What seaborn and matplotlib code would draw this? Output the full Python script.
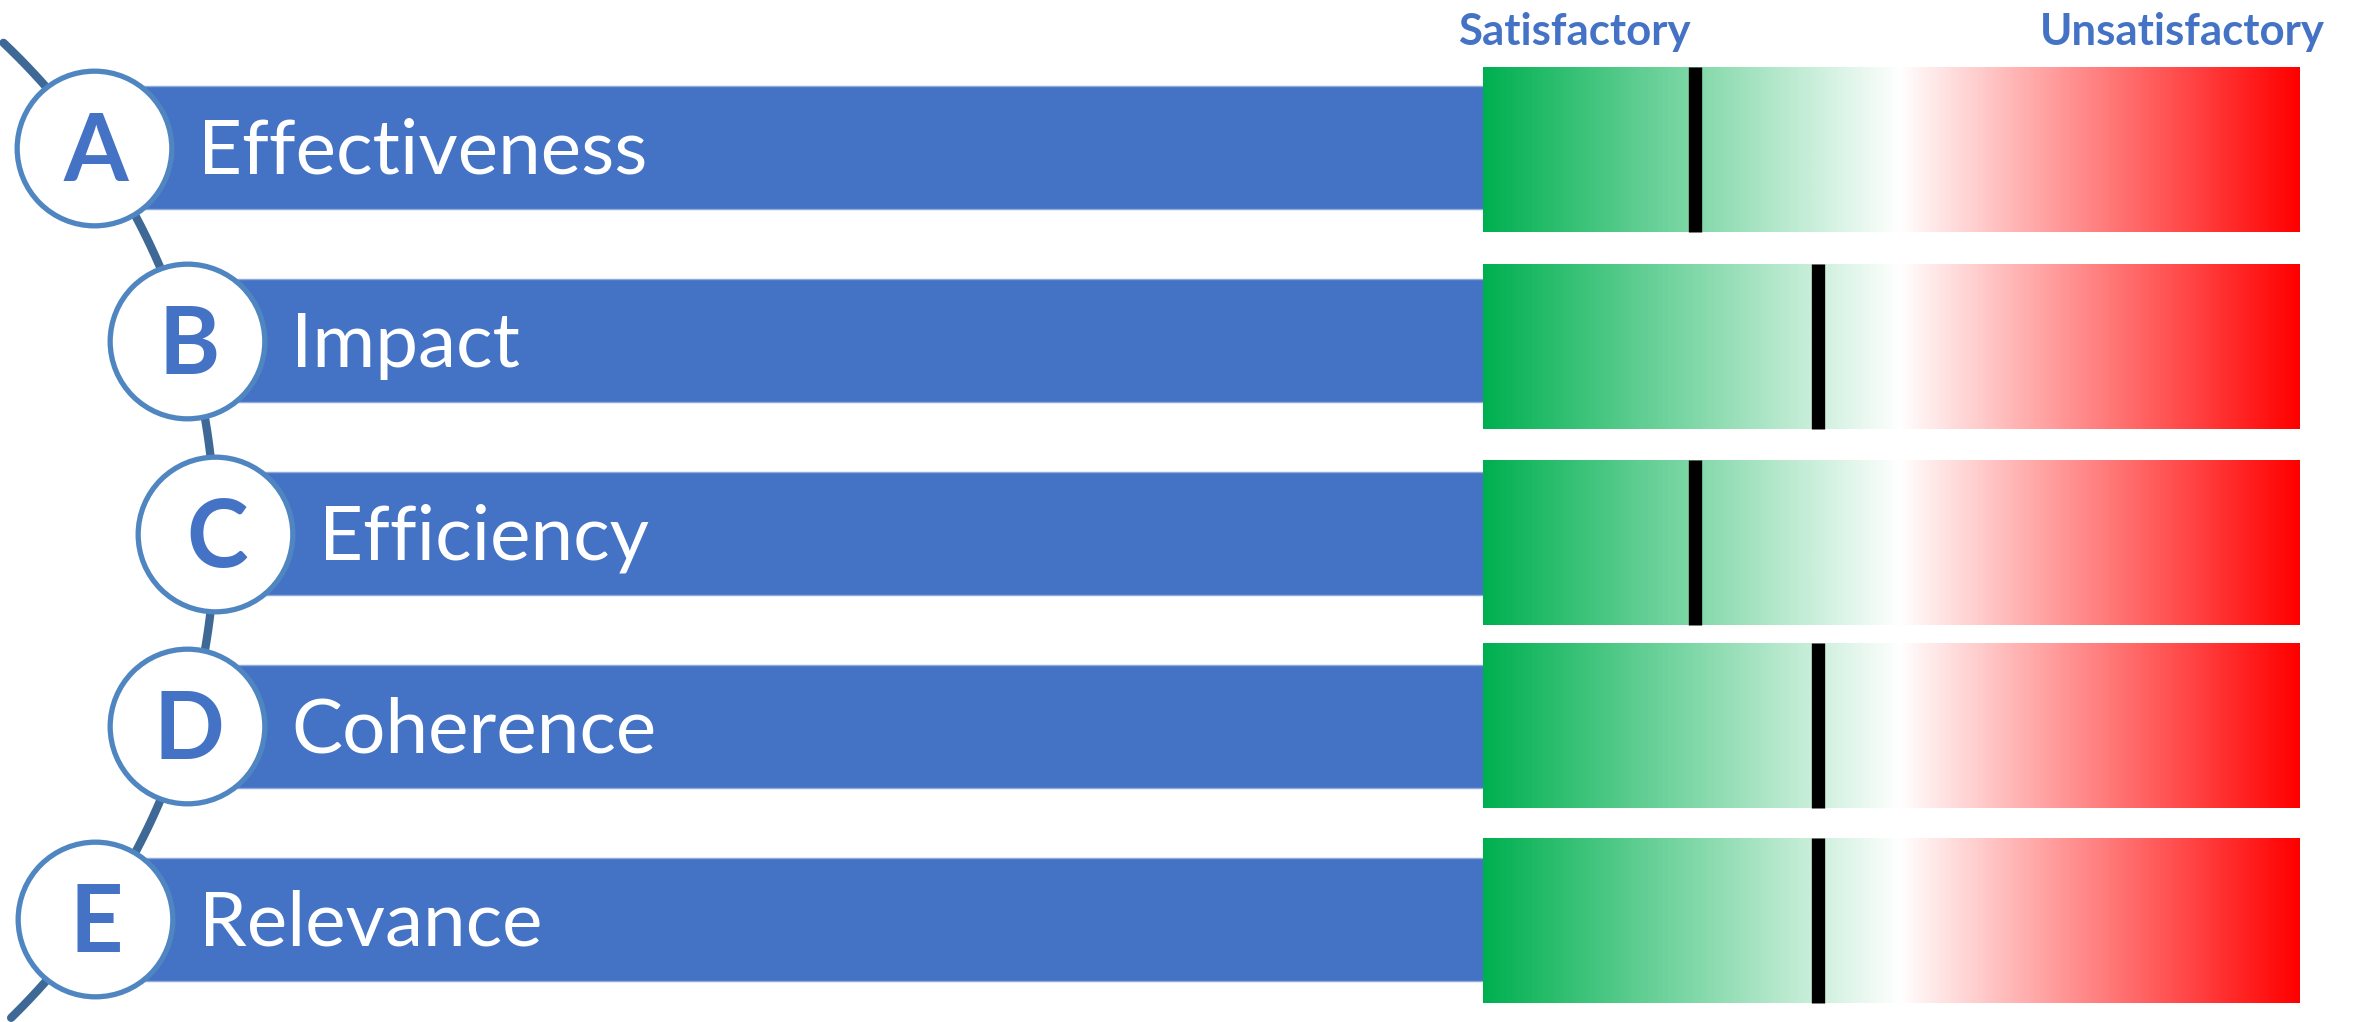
import numpy as np
import matplotlib.pyplot as plt
import seaborn as sns
from matplotlib.colors import LinearSegmentedColormap

# evaluation criteria and where each one sits on the satisfactory -> unsatisfactory scale (0-100)
letters = ['A', 'B', 'C', 'D', 'E']
criteria = ['Effectiveness', 'Impact', 'Efficiency', 'Coherence', 'Relevance']
scores = [26, 41, 26, 41, 41]
scale_labels = ['Satisfactory', 'Unsatisfactory']

sns.set_theme(style='white')
plt.rcParams['font.family'] = ['Lato', 'DejaVu Sans']

W, H = 2357, 1022
fig = plt.figure(figsize=(W / 100, H / 100), dpi=100)
ax = fig.add_axes([0, 0, 1, 1])
ax.set_xlim(0, W)
ax.set_ylim(H, 0)
ax.axis('off')

blue = '#4472C4'
row_y = 148 + 192.8 * np.arange(len(criteria))

# arc that links the letter circles
cx, cy, R = -461, 534, 676
th = np.radians(np.linspace(-46.6, 45.7, 200))
ax.plot(cx + R * np.cos(th), cy + R * np.sin(th), color='#3E6896', lw=6,
        solid_capstyle='round', zorder=1)
circle_x = cx + np.sqrt(R ** 2 - (row_y - cy) ** 2)

# blue label bars
grad_left = 1483
ax.barh(row_y, grad_left + 10 - circle_x, left=circle_x, height=123,
        color=blue, edgecolor='#8EA9DB', linewidth=1, zorder=2)

sns.scatterplot(x=circle_x, y=row_y, s=12400, color='white', edgecolor='#4F86C1',
                linewidth=3.8, zorder=3, ax=ax, legend=False)

for x, y, let, name in zip(circle_x, row_y, letters, criteria):
    ax.text(x + 2, y + 33, let, ha='center', va='baseline', fontsize=67,
            fontweight='bold', color=blue, zorder=4)
    ax.text(x + 104, y + 26, name, ha='left', va='baseline', fontsize=55,
            color='white', zorder=4)

ax.text(1458, 45, scale_labels[0], ha='left', va='baseline', fontsize=31.5,
        fontweight='bold', color=blue)
ax.text(2325, 45, scale_labels[1], ha='right', va='baseline', fontsize=31.5,
        fontweight='bold', color=blue)

# gradient scale panel, x in score units
ax2 = fig.add_axes([grad_left / W, 0, 817 / W, 1], zorder=5)
ax2.patch.set_alpha(0)
cmap = LinearSegmentedColormap.from_list(
    'sat', [(0, '#00B050'), (0.51, '#FFFFFF'), (1, '#FF0000')])
grad = np.linspace(0, 1, 600).reshape(1, -1)
grad_top = [67, 264, 460, 643, 838]
grad_h = 165
for top in grad_top:
    ax2.imshow(grad, cmap=cmap, aspect='auto', extent=(0, 100, top + grad_h, top),
               interpolation='bilinear')
ax2.vlines(scores, grad_top, np.array(grad_top) + grad_h, colors='black',
           linewidth=9.6, capstyle='butt')
ax2.set_xlim(0, 100)
ax2.set_ylim(H, 0)
ax2.axis('off')

plt.savefig('out.png', dpi=100)
